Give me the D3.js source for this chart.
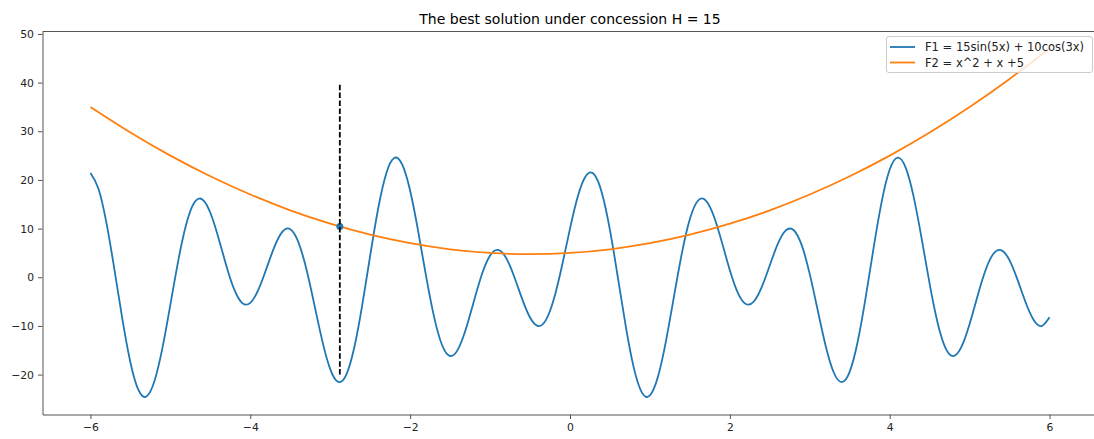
<!DOCTYPE html>
<html lang="en">

<head>
  <meta charset="UTF-8">
  <meta name="viewport" content="width=device-width, initial-scale=1.0">
</head>

<body>
    <style>
        body, html {
          margin: 0;
          padding: 0;
          background: #fff;
        }
        #svg text {
          font-family: "DejaVu Sans", sans-serif;
        }
    </style>
    <svg id="svg" width="1094" height="439"></svg>

  <script src="https://d3js.org/d3.v7.min.js"></script>
  <script>
    // F1 = 15sin(5x) + 10cos(3x), read every 0.1 from x = -6 to x = 6
    const f1Start = -6
    const f1Step = 0.1
    const f1Values = [
        21.423, 18.204, 11.164, 1.578, -8.670, -17.513, -23.160, -24.506, -21.380, -14.565,
        -5.612, 3.535, 10.986, 15.339, 16.001, 13.257, 8.192, 2.374, -2.555, -5.306,
        -5.256, -2.611, 1.687, 6.180, 9.321, 9.879, 7.278, 1.785, -5.528, -13.019,
        -18.866, -21.504, -20.052, -14.492, -5.763, 4.461, 14.132, 21.289, 24.502, 23.194,
        17.762, 9.474, 0.165, -8.197, -13.965, -16.178, -14.757, -10.486, -4.776, 0.708,
        4.484, 5.622, 3.978, 0.213, -4.389, -8.270, -10.016, -8.746, -4.369, 2.362,
        10.000,
        16.745, 20.875, 21.178, 17.263, 9.684, -0.155, -10.310, -18.726, -23.703, -24.284,
        -20.458, -13.159, -4.033, 4.952, 11.962, 15.715, 15.757, 12.529, 7.220, 1.441,
        -3.197, -5.498, -4.974, -1.965, 2.472, 6.842, 9.621, 9.666, 6.543, 0.643,
        -6.825, -14.165, -19.569, -21.564, -19.390, -13.209, -4.095, 6.183, 15.555, 22.133,
        24.600, 22.544, 16.523, 7.926, -1.358, -9.385, -14.595, -16.182, -14.206, -9.582,
        -3.794, 1.496, 4.874, 5.532, 3.464, -0.543, -5.135, -8.745, -10.026, -8.217
    ]

    // F2 = x^2 + x + 5, read every 0.5 from x = -6 to x = 6
    const f2Start = -6
    const f2Step = 0.5
    const f2Values = [
        35, 29.75, 25, 20.75, 17, 13.75, 11, 8.75, 7, 5.75, 5, 4.75, 5,
        5.75, 7, 8.75, 11, 13.75, 17, 20.75, 25, 29.75, 35, 40.75, 47
    ]

    // the chosen point and the dashed marker line
    const bestX = -2.88
    const bestY = 10.41
    const markerSpan = [-20, 40]

    const xTicks = [-6, -4, -2, 0, 2, 4, 6]
    const yTicks = [-20, -10, 0, 10, 20, 30, 40, 50]
    const titleText = 'The best solution under concession H = 15'
    const legendLabels = ['F1 = 15sin(5x) + 10cos(3x)', 'F2 = x^2 + x +5']
    const colors = ['#1f77b4', '#ff7f0e']

    function drawChart() {
        const margin = { top: 31.5, right: -3.5, bottom: 24.5, left: 42.5 }
        const width = 1094
        const height = 439

        const f1 = f1Values.map((v, i) => ({ x: f1Start + i * f1Step, y: v }))
        const f2 = f2Values.map((v, i) => ({ x: f2Start + i * f2Step, y: v }))

        // x scale
        const xscale = d3.scaleLinear()
            .domain([-6.6, 6.6])
            .range([margin.left, width - margin.right])

        // y scale
        const yscale = d3.scaleLinear()
            .domain([-28.2, 50.5])
            .range([height - margin.bottom, margin.top])

        const svg = d3.select('#svg')

        // title
        svg.append('text')
            .attr('x', (margin.left + width - margin.right) / 2)
            .attr('y', 24)
            .attr('text-anchor', 'middle')
            .attr('font-size', 14)
            .attr('fill', '#000')
            .text(titleText)

        // Make bottom Axis
        const bottomAxis = d3.axisBottom(xscale)
            .tickValues(xTicks)
            .tickSize(4.5)
            .tickSizeOuter(0)
            .tickPadding(4)
        const gx = svg.append('g')
            .attr('transform', `translate(0, ${height - margin.bottom})`)
            .call(bottomAxis)

        // Make left Axis
        const leftAxis = d3.axisLeft(yscale)
            .tickValues(yTicks)
            .tickSize(4.5)
            .tickSizeOuter(0)
            .tickPadding(4)
        const gy = svg.append('g')
            .attr('transform', `translate(${margin.left}, 0)`)
            .call(leftAxis)

        for (const g of [gx, gy]) {
            g.attr('font-family', null).attr('font-size', 10.8)
            g.select('.domain').attr('stroke', '#555').attr('stroke-width', 1)
            g.selectAll('.tick line').attr('stroke', '#555').attr('stroke-width', 1)
            g.selectAll('.tick text').attr('fill', '#222')
        }

        // top spine (right one falls outside the picture)
        svg.append('line')
            .attr('x1', margin.left).attr('x2', width - margin.right)
            .attr('y1', margin.top).attr('y2', margin.top)
            .attr('stroke', '#555')

        const line = d3.line()
            .x(d => xscale(d.x))
            .y(d => yscale(d.y))
            .curve(d3.curveNatural)

        svg.append('path')
            .datum(f1)
            .attr('d', line)
            .attr('fill', 'none')
            .attr('stroke', colors[0])
            .attr('stroke-width', 1.8)

        svg.append('path')
            .datum(f2)
            .attr('d', line)
            .attr('fill', 'none')
            .attr('stroke', colors[1])
            .attr('stroke-width', 1.8)

        // best point
        svg.append('circle')
            .attr('cx', xscale(bestX))
            .attr('cy', yscale(bestY))
            .attr('r', 3.5)
            .attr('fill', colors[0])

        svg.append('line')
            .attr('x1', xscale(bestX)).attr('x2', xscale(bestX))
            .attr('y1', yscale(markerSpan[0])).attr('y2', yscale(markerSpan[1]))
            .attr('stroke', '#000')
            .attr('stroke-width', 1.8)
            .attr('stroke-dasharray', '5.5,2.4')

        // legend
        const legend = svg.append('g').attr('transform', 'translate(886.5, 36.5)')
        legend.append('rect')
            .attr('width', 206)
            .attr('height', 36)
            .attr('rx', 2.5)
            .attr('fill', '#fff')
            .attr('fill-opacity', 0.8)
            .attr('stroke', '#ccc')

        legendLabels.forEach((label, i) => {
            const row = legend.append('g').attr('transform', `translate(0, ${10.5 + i * 15.5})`)
            row.append('line')
                .attr('x1', 3.5).attr('x2', 28.5)
                .attr('stroke', colors[i])
                .attr('stroke-width', 1.8)
            row.append('text')
                .attr('x', 38.5)
                .attr('dy', '0.35em')
                .attr('font-size', 11.5)
                .attr('fill', '#222')
                .text(label)
        })
    }

    drawChart()
  </script>

</body>

</html>
